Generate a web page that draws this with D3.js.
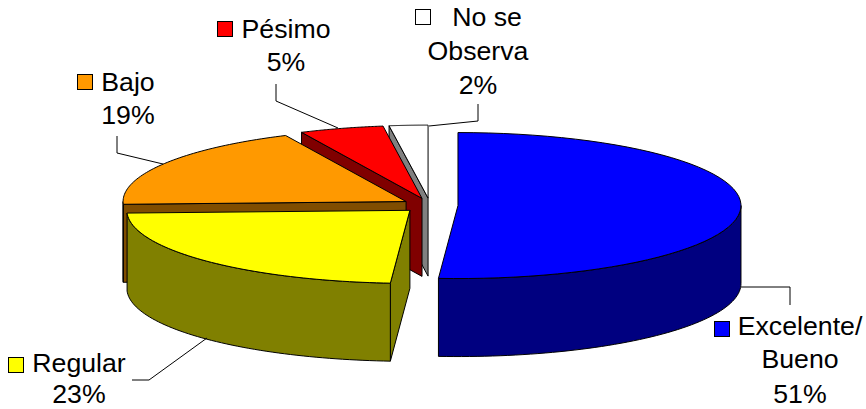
<!DOCTYPE html>
<html>
<head>
<meta charset="utf-8">
<script src="https://cdnjs.cloudflare.com/ajax/libs/d3/7.8.5/d3.min.js"></script>
<style>
html,body{margin:0;padding:0;background:#fff}
svg{display:block}
text{font-family:"Liberation Sans",Arial,sans-serif;font-size:26.7px;fill:#000;text-anchor:middle}
</style>
</head>
<body>
<svg id="chart" width="866" height="409"></svg>
<script>
const categories = ["Excelente/ Bueno", "Regular", "Bajo", "Pésimo", "No se Observa"];
// Unrounded shares; labels show them rounded
const shares = [51.1, 23.3, 18.6, 4.8, 2.2];
const topColors = ["#0000ff", "#ffff00", "#ff9900", "#ff0000", "#ffffff"];
const sideColors = ["#000080", "#808000", "#804d00", "#800000", "#808080"];

// Pie geometry (tilted view)
const cx = 430, cy = 205.3, rx = 283, ry = 73, depth = 78, explode = 28;
const svg = d3.select("#chart");

const pie = d3.pie().sort(null).startAngle(0).endAngle(2 * Math.PI);
const slices = pie(shares);

// Map pie-space (angle clockwise from top, radius 0..1) to the tilted screen plane
const sx = d3.scaleLinear().domain([-1, 1]).range([-rx, rx]);
const sy = d3.scaleLinear().domain([-1, 1]).range([-ry, ry]);
const project = (a, r) => [sx(r * Math.sin(a)), sy(-r * Math.cos(a))];
const line = d3.line();
const arcPoints = (a0, a1) => d3.range(0, 61).map(i => project(a0 + (a1 - a0) * i / 60, 1));

const models = slices.map((s, i) => {
  const mid = (s.startAngle + s.endAngle) / 2;
  const [ox, oy] = project(mid, explode / rx);
  return { s, i, x: cx + ox, y: cy + oy };
});

// Back-to-front painter's order
const order = [4, 3, 2, 0, 1];
const strokeAttrs = g => g.attr("stroke", "#000").attr("stroke-width", 1).attr("stroke-linejoin", "round");

order.forEach(idx => {
  const m = models[idx];
  const a0 = m.s.startAngle, a1 = m.s.endAngle;
  const g = svg.append("g").attr("transform", `translate(${m.x},${m.y})`).call(strokeAttrs);
  const side = sideColors[m.i];
  const drop = p => [p[0], p[1] + depth];
  const face = a => {
    const p = project(a, 1);
    return line([[0, 0], p, drop(p), [0, depth]]) + "Z";
  };
  // Radial cut faces, only those turned towards the viewer
  if (Math.sin(a0) < -1e-9) g.append("path").attr("d", face(a0)).attr("fill", side);
  if (Math.sin(a1) > 1e-9) g.append("path").attr("d", face(a1)).attr("fill", side);
  // Outer wall, only the part that faces the viewer
  const w0 = Math.max(a0, Math.PI / 2), w1 = Math.min(a1, 3 * Math.PI / 2);
  if (w1 > w0) {
    const pts = arcPoints(w0, w1);
    g.append("path").attr("d", line(pts.concat(pts.map(drop).reverse())) + "Z").attr("fill", side);
  }
  // Top face
  g.append("path").attr("d", line([[0, 0]].concat(arcPoints(a0, a1))) + "Z").attr("fill", topColors[m.i]);
});

// Leader lines
const leaderLines = [
  [[741, 287], [790, 287], [790, 305]],
  [[207, 338], [149, 380], [132, 380]],
  [[163, 164], [117, 153], [117, 136]],
  [[338, 128], [276, 101], [276, 84]],
  [[429, 126], [478, 121], [478, 104]]
];
svg.append("g").selectAll("path").data(leaderLines).join("path")
  .attr("d", d => line(d)).attr("fill", "none").attr("stroke", "#000").attr("stroke-width", 1);

// Labels
const labelLines = [
  ["Excelente/", "Bueno", "51%"],
  ["Regular", "23%"],
  ["Bajo", "19%"],
  ["Pésimo", "5%"],
  ["No se", "Observa", "2%"]
];
const labelX = [[800, 800, 800], [79, 79], [128, 128], [286, 286], [487, 478, 478]];
const labelY = [[335, 368, 403], [372, 403], [91, 124], [38, 71], [26, 60, 94]];
const keyPos = [[714, 321], [8, 357], [77, 74], [217, 21], [415, 9]];
const lab = svg.append("g");
labelLines.forEach((lines, i) => {
  lines.forEach((t, j) => {
    lab.append("text").attr("x", labelX[i][j]).attr("y", labelY[i][j]).text(t);
  });
  lab.append("rect").attr("x", keyPos[i][0] + .5).attr("y", keyPos[i][1] + .5)
    .attr("width", 15).attr("height", 15).attr("fill", topColors[i])
    .attr("stroke", "#000").attr("stroke-width", 1);
});
</script>
</body>
</html>
